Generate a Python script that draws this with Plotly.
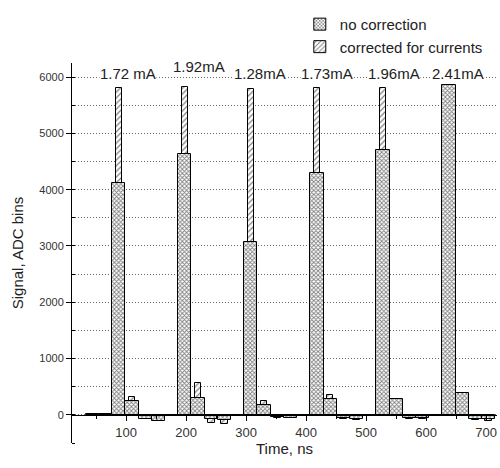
import plotly.graph_objects as go

# bin centres (ns)
time_ns = [44, 66, 88, 110, 132, 154, 176, 198, 220, 242, 264, 286, 308, 330, 352,
           374, 396, 418, 440, 462, 484, 506, 528, 550, 572, 594, 616, 638, 660, 682, 704]
no_correction = [15, 15, 4120, 250, -70, -110, -10, 4640, 300, -70, -90, -10, 3070, 180, -40,
                 -50, -10, 4290, 280, -60, -80, -10, 4700, 290, -60, -60, -10, 5860, 390, -70, -80]
corrected = [15, 15, 5800, 315, -50, -80, -10, 5820, 565, -150, -170, -10, 5780, 255, -50,
             -60, -10, 5800, 345, -80, -100, -10, 5800, 290, -70, -70, -10, 5820, 380, -90, -110]
current_labels = ["1.72 mA", "1.92mA", "1.28mA", "1.73mA", "1.96mA", "2.41mA"]
label_x = [103, 222, 323, 435, 547, 653]
label_y = [6070, 6180, 6070, 6070, 6070, 6070]

FONT = "Liberation Sans, Arial, sans-serif"

fig = go.Figure()
fig.add_trace(go.Bar(
    x=time_ns, y=corrected, width=11, name="corrected for currents",
    marker=dict(color="white", line=dict(color="black", width=1),
                pattern=dict(shape="/", fgcolor="black", bgcolor="white", size=4, solidity=0.3)),
))
fig.add_trace(go.Bar(
    x=time_ns, y=no_correction, width=22, name="no correction",
    marker=dict(color="white", line=dict(color="black", width=1),
                pattern=dict(shape="x", fgcolor="black", bgcolor="white", size=3, solidity=0.5)),
))

for t, xx, yy in zip(current_labels, label_x, label_y):
    fig.add_annotation(x=xx, y=yy, text=t, showarrow=False, bgcolor="white",
                       font=dict(family=FONT, size=15, color="#222"), borderpad=0)

plot_top, plot_bot, zero_px = 63, 443, 415
fig.update_layout(
    width=500, height=468,
    margin=dict(l=72, r=3, t=plot_top, b=468 - plot_bot),
    barmode="overlay", bargap=0,
    plot_bgcolor="white", paper_bgcolor="white",
    font=dict(family=FONT, color="#222"),
    legend=dict(x=0.536, y=1.145, xanchor="left", yanchor="top", traceorder="reversed",
                font=dict(size=15, family=FONT), bgcolor="rgba(0,0,0,0)", tracegroupgap=0),
    xaxis=dict(range=[10, 718], anchor="free", position=(plot_bot - zero_px) / (plot_bot - plot_top),
               automargin=False,
               showline=True, linecolor="black", linewidth=1, showgrid=False, zeroline=False,
               tickmode="array", tickvals=[100, 200, 300, 400, 500, 600, 700],
               ticks="outside", ticklen=5, tickcolor="black",
               minor=dict(ticks="outside", ticklen=3, dtick=50, tickcolor="black"),
               tickfont=dict(size=13, color="#333"),
               title=dict(text="Time, ns", font=dict(size=15), standoff=4)),
    yaxis=dict(range=[-500, 6250], automargin=False, showline=True, linecolor="black", linewidth=1,
               zeroline=False, dtick=1000, ticks="outside", ticklen=5, tickcolor="black",
               showgrid=True, gridcolor="#666", griddash="1px,2px", gridwidth=1,
               minor=dict(dtick=500, ticks="inside", ticklen=3, tickcolor="black",
                          showgrid=True, gridcolor="#666", griddash="1px,2px"),
               tickfont=dict(size=11, color="#333"),
               title=dict(text="Signal, ADC bins", font=dict(size=15), standoff=12)),
)

fig.write_html("out.html", config={"displayModeBar": False},
               post_script="document.body.style.margin='0';document.body.style.padding='0';")
